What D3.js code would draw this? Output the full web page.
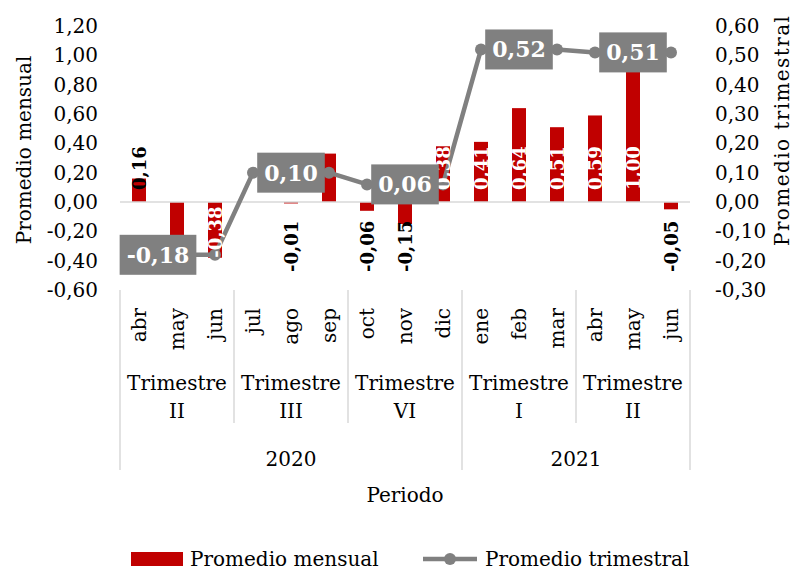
<!DOCTYPE html>
<html>
<head>
<meta charset="utf-8">
<script src="https://cdn.jsdelivr.net/npm/d3@7"></script>
<style>
  body { margin: 0; background: #fff; }
  text { font-family: "DejaVu Serif", serif; }
</style>
</head>
<body>
<svg id="chart" width="801" height="571"></svg>
<script>
// months (x categories), quarters, years
var months = ['abr', 'may', 'jun', 'jul', 'ago', 'sep', 'oct', 'nov', 'dic', 'ene', 'feb', 'mar', 'abr', 'may', 'jun'];
var quarterNames = ['Trimestre', 'Trimestre', 'Trimestre', 'Trimestre', 'Trimestre'];
var quarterRoman = ['II', 'III', 'VI', 'I', 'II'];
var years = ['2020', '2021'];
var quartersPerYear = [3, 2];

// series
var mensual = [0.16, -0.32, -0.38, null, -0.01, 0.33, -0.06, -0.15, 0.38, 0.41, 0.64, 0.51, 0.59, 1.00, -0.05];
var trimestral = [-0.18, -0.18, -0.18, 0.10, 0.10, 0.10, 0.06, 0.06, 0.06, 0.52, 0.52, 0.52, 0.51, 0.51, 0.51];
var trimestralLabelAt = [1, 4, 7, 10, 13];   // months where the quarter value is labelled
var hiddenBarLabels = [1, 5];                // covered by the quarter boxes in the original

var leftTicks = [-0.6, -0.4, -0.2, 0, 0.2, 0.4, 0.6, 0.8, 1.0, 1.2];
var rightTicks = [-0.3, -0.2, -0.1, 0, 0.1, 0.2, 0.3, 0.4, 0.5, 0.6];

var RED = '#c00000', GREY = '#808080', SEP = '#d9d9d9';

var locale = d3.formatLocale({decimal: ',', thousands: '.', grouping: [3], currency: ['', ''], minus: '-'});
var fmt = locale.format('.2f');

var svg = d3.select('#chart');
var plotL = 120, plotR = 690, plotT = 26, plotB = 290;

var x = d3.scaleBand().domain(d3.range(months.length)).range([plotL, plotR]);
var yL = d3.scaleLinear().domain([-0.6, 1.2]).range([plotB, plotT]);
var yR = d3.scaleLinear().domain([-0.3, 0.6]).range([plotB, plotT]);
var y0 = yL(0);
var cx = function(i) { return x(i) + x.bandwidth() / 2; };

// axes (labels only)
var axL = svg.append('g').attr('transform', 'translate(' + plotL + ',0)')
    .call(d3.axisLeft(yL).tickValues(leftTicks).tickFormat(fmt).tickSize(0).tickPadding(22));
var axR = svg.append('g').attr('transform', 'translate(' + plotR + ',0)')
    .call(d3.axisRight(yR).tickValues(rightTicks).tickFormat(fmt).tickSize(0).tickPadding(25));
[axL, axR].forEach(function(a) {
    a.select('.domain').remove();
    a.selectAll('text').style('font-family', '"DejaVu Serif", serif').style('font-size', '20px').attr('fill', '#000');
});

svg.append('text').attr('transform', 'translate(25,150) rotate(-90)')
    .attr('text-anchor', 'middle').attr('dominant-baseline', 'middle')
    .style('font-size', '20px').text('Promedio mensual');
svg.append('text').attr('transform', 'translate(783,131) rotate(-90)')
    .attr('text-anchor', 'middle').attr('dominant-baseline', 'middle')
    .attr('textLength', 230).attr('lengthAdjust', 'spacing')
    .style('font-size', '20px').text('Promedio trimestral');

// bars
var bw = 14;
var barData = mensual.map(function(v, i) { return {v: v, i: i}; }).filter(function(d) { return d.v !== null; });
svg.append('g').selectAll('rect').data(barData).enter().append('rect')
    .attr('x', function(d) { return cx(d.i) - bw / 2; })
    .attr('width', bw)
    .attr('y', function(d) { return Math.min(yL(d.v), y0); })
    .attr('height', function(d) { return Math.abs(yL(d.v) - y0); })
    .attr('fill', RED);

// zero line
svg.append('line').attr('x1', plotL).attr('x2', plotR).attr('y1', y0).attr('y2', y0)
    .attr('stroke', SEP).attr('stroke-width', 1.5);

// quarterly line
var pts = trimestral.map(function(v, i) { return {v: v, i: i}; });
svg.append('path').datum(pts)
    .attr('fill', 'none').attr('stroke', GREY).attr('stroke-width', 4.5).attr('stroke-linejoin', 'round')
    .attr('d', d3.line().x(function(d) { return cx(d.i); }).y(function(d) { return yR(d.v); }));
svg.append('g').selectAll('circle').data(pts).enter().append('circle')
    .attr('cx', function(d) { return cx(d.i); })
    .attr('cy', function(d) { return yR(d.v); })
    .attr('r', 6).attr('fill', GREY);

// bar labels
svg.append('g').selectAll('text')
    .data(barData.filter(function(d) { return hiddenBarLabels.indexOf(d.i) < 0; }))
    .enter().append('text')
    .attr('transform', function(d) {
        var ty;
        if (d.v >= 0) ty = y0 - 12;
        else if (d.v <= -0.3) ty = yL(d.v);
        else ty = y0 + 70;
        return 'translate(' + cx(d.i) + ',' + ty + ') rotate(-90)';
    })
    .attr('text-anchor', 'start').attr('dominant-baseline', 'central')
    .style('font-size', '18px').style('font-weight', 'bold')
    .attr('fill', function(d) { return (d.v >= 0.3 || d.v <= -0.3) ? '#fff' : '#000'; })
    .text(function(d) { return fmt(d.v); });

// quarter label boxes
var boxShift = {1: -19};
var boxes = svg.append('g').selectAll('g').data(trimestralLabelAt).enter().append('g')
    .attr('transform', function(i) {
        return 'translate(' + (cx(i) + (boxShift[i] || 0)) + ',' + yR(trimestral[i]) + ')';
    });
boxes.append('rect').attr('fill', GREY);
boxes.append('text').attr('text-anchor', 'middle').attr('dominant-baseline', 'central')
    .attr('fill', '#fff').style('font-size', '22px').style('font-weight', 'bold')
    .text(function(i) { return fmt(trimestral[i]); });
boxes.each(function() {
    var g = d3.select(this);
    var bb = g.select('text').node().getBBox();
    var w = bb.width + 14, h = 40;
    g.select('rect').attr('x', -w / 2).attr('y', -h / 2).attr('width', w).attr('height', h);
});

// category axis: months, quarters, years
var gx = svg.append('g');
gx.selectAll('text.m').data(months).enter().append('text')
    .attr('transform', function(d, i) { return 'translate(' + cx(i) + ',308) rotate(-90)'; })
    .attr('text-anchor', 'end').attr('dominant-baseline', 'central')
    .style('font-size', '20px').text(function(d) { return d; });

var qx = d3.scaleBand().domain(d3.range(quarterNames.length)).range([plotL, plotR]);
gx.selectAll('text.q1').data(quarterNames).enter().append('text')
    .attr('x', function(d, i) { return qx(i) + qx.bandwidth() / 2; }).attr('y', 390)
    .attr('text-anchor', 'middle').style('font-size', '20px').text(function(d) { return d; });
gx.selectAll('text.q2').data(quarterRoman).enter().append('text')
    .attr('x', function(d, i) { return qx(i) + qx.bandwidth() / 2; }).attr('y', 418)
    .attr('text-anchor', 'middle').style('font-size', '20px').text(function(d) { return d; });

// separators
var qBounds = d3.range(quarterNames.length + 1).map(function(k) { return plotL + k * qx.bandwidth(); });
var yearStart = [0];
quartersPerYear.forEach(function(n, k) { yearStart.push(yearStart[k] + n); });
gx.selectAll('line.q').data(qBounds).enter().append('line')
    .attr('x1', function(d) { return d; }).attr('x2', function(d) { return d; })
    .attr('y1', 290)
    .attr('y2', function(d, k) { return yearStart.indexOf(k) >= 0 ? 470 : 423; })
    .attr('stroke', SEP).attr('stroke-width', 1.5);

gx.selectAll('text.y').data(years).enter().append('text')
    .attr('x', function(d, k) { return (qBounds[yearStart[k]] + qBounds[yearStart[k + 1]]) / 2; })
    .attr('y', 466).attr('text-anchor', 'middle').style('font-size', '20px')
    .text(function(d) { return d; });

svg.append('text').attr('x', (plotL + plotR) / 2).attr('y', 502).attr('text-anchor', 'middle')
    .style('font-size', '20px').text('Periodo');

// legend
var lg = svg.append('g');
lg.append('rect').attr('x', 131).attr('y', 552).attr('width', 52).attr('height', 14).attr('fill', RED);
lg.append('text').attr('x', 190).attr('y', 566).style('font-size', '20px').text('Promedio mensual');
lg.append('line').attr('x1', 423).attr('x2', 477).attr('y1', 559).attr('y2', 559)
    .attr('stroke', GREY).attr('stroke-width', 4.5);
lg.append('circle').attr('cx', 450).attr('cy', 559).attr('r', 6).attr('fill', GREY);
lg.append('text').attr('x', 485).attr('y', 566).style('font-size', '20px').text('Promedio trimestral');
</script>
</body>
</html>
